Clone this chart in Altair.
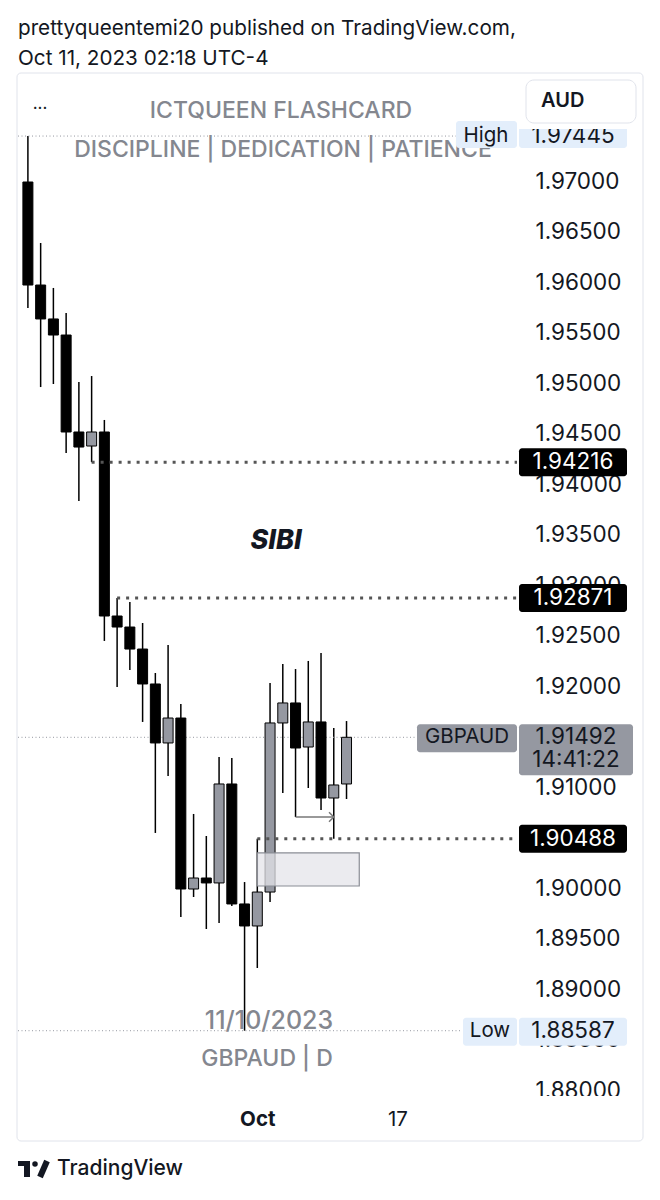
import altair as alt
import pandas as pd

# ---------------- data ----------------
dates = ["2023-09-06", "2023-09-07", "2023-09-08", "2023-09-11", "2023-09-12",
         "2023-09-13", "2023-09-14", "2023-09-15", "2023-09-18", "2023-09-19",
         "2023-09-20", "2023-09-21", "2023-09-22", "2023-09-25", "2023-09-26",
         "2023-09-27", "2023-09-28", "2023-09-29", "2023-10-02", "2023-10-03",
         "2023-10-04", "2023-10-05", "2023-10-06", "2023-10-09", "2023-10-10",
         "2023-10-11"]
opens = [1.96990, 1.95970, 1.95634, 1.95475, 1.94515, 1.94376, 1.94515, 1.92693,
         1.92584, 1.92366, 1.92020, 1.91436, 1.91683, 1.89990, 1.90099, 1.90050,
         1.91030, 1.89842, 1.89624, 1.89960, 1.91634, 1.91832, 1.91396, 1.91644,
         1.90891, 1.91030]
highs = [1.97445, 1.96386, 1.95941, 1.95693, 1.95010, 1.95069, 1.94634, 1.92871,
         1.92832, 1.92624, 1.92129, 1.92406, 1.91822, 1.90733, 1.90515, 1.91297,
         1.91287, 1.90059, 1.90488, 1.92030, 1.92218, 1.92168, 1.92248, 1.92327,
         1.91584, 1.91653]
lows = [1.95743, 1.94960, 1.94990, 1.94307, 1.93832, 1.94216, 1.92446, 1.91990,
        1.92158, 1.91644, 1.90545, 1.91109, 1.89713, 1.89911, 1.89594, 1.89653,
        1.89822, 1.88587, 1.89208, 1.89861, 1.90941, 1.90703, 1.90990, 1.90772,
        1.90488, 1.90881]
closes = [1.95970, 1.95634, 1.95475, 1.94515, 1.94366, 1.94515, 1.92693, 1.92584,
          1.92366, 1.92020, 1.91436, 1.91683, 1.89990, 1.90099, 1.90050, 1.91030,
          1.89842, 1.89624, 1.89960, 1.91634, 1.91832, 1.91386, 1.91644, 1.90891,
          1.91020, 1.91492]

level_prices = [1.94216, 1.92871, 1.90488]
level_labels = ["1.94216", "1.92871", "1.90488"]
level_start = [5, 7, 18]          # bar index where each dotted level starts

high_price, high_label = 1.97445, "1.97445"
low_price, low_label = 1.88587, "1.88587"
last_price, last_label = 1.91492, "1.91492"
countdown = "14:41:22"
symbol = "GBPAUD"

# price-scale ticks that are visible (1.905 / 1.915 sit fully behind labels)
y_ticks = [1.880, 1.885, 1.890, 1.895, 1.900, 1.910, 1.920, 1.925,
           1.930, 1.935, 1.940, 1.945, 1.950, 1.955, 1.960, 1.965, 1.970]
x_tick_idx = [18, 29]
x_tick_labels = ["Oct", "17"]

fvg_x = [18, 26]
fvg_y = [1.90347, 1.90020]
arrow_x = [21, 24]
arrow_y = 1.90703

header1 = "prettyqueentemi20 published on TradingView.com,"
header2 = "Oct 11, 2023 02:18 UTC-4"

# ---------------- layout helpers ----------------
X0, Y0 = 18, 72          # page pixel of the plot origin
W, H = 509, 1026
PXPU = 10100.0           # pixels per price unit
px = lambda v: v - X0
py = lambda v: v - Y0

xs = alt.Scale(domain=[-5 / 13, (W - 5) / 13], nice=False, zero=False)
ys = alt.Scale(domain=[1.97 - (Y0 + H - 181) / PXPU, 1.97 + (181 - Y0) / PXPU],
               nice=False, zero=False)

FONT = "Inter"
INK = "#131722"
WM = "#84878f"

df = pd.DataFrame({"date": dates, "open": opens, "high": highs, "low": lows, "close": closes})
df["i"] = range(len(df))
df["bull"] = df["close"] > df["open"]


def one(**kw):
    d = {"t": ""}
    d.update(kw)
    return alt.Chart(pd.DataFrame([d]))


def vtext(t, x, y, size, color=INK, align="center", weight="normal", style="normal", font=FONT):
    return one(t=t).mark_text(align=align, baseline="middle", fontSize=size, color=color,
                              fontWeight=weight, fontStyle=style, font=font).encode(
        x=alt.value(px(x)), y=alt.value(py(y)), text="t:N")


def vrect(x0, x1, y0, y1, fill, stroke=None, radius=0, sw=1, fill_opacity=1):
    kw = dict(fill=fill, cornerRadius=radius, fillOpacity=fill_opacity)
    if stroke:
        kw.update(stroke=stroke, strokeWidth=sw)
    return one().mark_rect(**kw).encode(x=alt.value(px(x0)), x2=alt.value(px(x1)),
                                        y=alt.value(py(y0)), y2=alt.value(py(y1)))


def price_box(price, x0, x1, up_px, down_px, fill, radius=3):
    return one(p=price).transform_calculate(
        top=f"datum.p + {up_px / PXPU}", bot=f"datum.p - {down_px / PXPU}"
    ).mark_rect(fill=fill, cornerRadius=radius).encode(
        x=alt.value(px(x0)), x2=alt.value(px(x1)),
        y=alt.Y("top:Q", scale=ys, axis=None), y2="bot:Q")


def price_text(price, label, x, color, size=22.5, dy=0, align="center", weight="normal"):
    return one(p=price, t=label).mark_text(fontSize=size, font=FONT, color=color, align=align,
                                            baseline="middle", dy=dy, fontWeight=weight).encode(
        x=alt.value(px(x)), y=alt.Y("p:Q", scale=ys, axis=None), text="t:N")


layers = []

# frame (no fill so the axes behind marks stay visible)
layers.append(vrect(17, 643, 73, 1141, "white", stroke="#e0e3eb", radius=4, fill_opacity=0))

# axes carrier: candle wicks
wicks = alt.Chart(df).mark_rule(color="black", strokeWidth=1.5).encode(
    x=alt.X("i:Q", scale=xs, axis=alt.Axis(
        orient="bottom", values=x_tick_idx, title=None, grid=False, ticks=False, domain=False,
        labelExpr="datum.value == 18 ? 'Oct' : '17'", labelFontSize=20.5, labelFont=FONT,
        labelColor=INK, labelPadding=11, labelFlush=False,
        labelFontWeight={"condition": {"test": "datum.value == 18", "value": "bold"},
                         "value": "normal"})),
    y=alt.Y("low:Q", scale=ys, axis=alt.Axis(
        orient="right", values=y_ticks, format=".5f", title=None, grid=False, ticks=False,
        domain=False, labelFontSize=22.5, labelFont=FONT, labelColor=INK, labelAlign="left",
        labelPadding=8, labelBaseline="middle", labelOverlap=False)),
    y2="high:Q")

# watermark texts
layers.append(vtext("ICTQUEEN FLASHCARD", 281, 111, 23, color=WM, weight=500))
layers.append(vtext("DISCIPLINE | DEDICATION | PATIENCE", 283, 150, 23, color=WM, weight=500))
layers.append(vtext("11/10/2023", 269, 1021, 25, color=WM, weight=500))
layers.append(vtext("GBPAUD | D", 267, 1059, 23, color=WM, weight=500))
layers.append(vtext("SIBI", 276, 541, 27, weight=800, style="italic"))

layers.append(wicks)

# thin dotted lines (high / low / last)
def thin_rule(price, x_end):
    return one(p=price).mark_rule(color="#9598a1", strokeDash=[1, 2.5], strokeWidth=1).encode(
        x=alt.value(0), x2=alt.value(px(x_end)), y=alt.Y("p:Q", scale=ys, axis=None))

layers.append(thin_rule(high_price, 456))
layers.append(thin_rule(last_price, 415))
layers.append(thin_rule(low_price, 462))

# candle bodies
bodies = alt.Chart(df).mark_bar(size=10, stroke="black", strokeWidth=1).encode(
    x=alt.X("i:Q", scale=xs, axis=None),
    y=alt.Y("open:Q", scale=ys, axis=None), y2="close:Q",
    fill=alt.condition("datum.bull", alt.value("#9598a1"), alt.value("black")))
layers.append(bodies)

# dotted level lines
lv = pd.DataFrame({"p": level_prices, "t": level_labels, "s": level_start})
layers.append(alt.Chart(lv).mark_rule(color="#555", strokeDash=[3, 6], strokeWidth=3).encode(
    x=alt.X("s:Q", scale=xs, axis=None), x2=alt.value(px(517)),
    y=alt.Y("p:Q", scale=ys, axis=None)))

# FVG rectangle
fvg = pd.DataFrame({"x0": [fvg_x[0]], "x1": [fvg_x[1]], "y0": [fvg_y[0]], "y1": [fvg_y[1]]})
layers.append(alt.Chart(fvg).mark_rect(fill="#e4e4ea", fillOpacity=0.75, stroke="#8a8d95",
                                       strokeWidth=1.2).encode(
    x=alt.X("x0:Q", scale=xs, axis=None), x2="x1:Q",
    y=alt.Y("y0:Q", scale=ys, axis=None), y2="y1:Q"))

# arrow drawing
arr = pd.DataFrame({"x0": [arrow_x[0]], "x1": [arrow_x[1]], "p": [arrow_y]})
layers.append(alt.Chart(arr).mark_rule(color="#777", strokeWidth=1.5).encode(
    x=alt.X("x0:Q", scale=xs, axis=None), x2="x1:Q", y=alt.Y("p:Q", scale=ys, axis=None)))
layers.append(alt.Chart(arr).mark_point(shape="M-1,-1L0,0L-1,1", size=90, color="#777",
                                        strokeWidth=1.5, filled=False, opacity=1).encode(
    x=alt.X("x1:Q", scale=xs, axis=None), y=alt.Y("p:Q", scale=ys, axis=None)))

# price-scale labels: levels
for p, t in zip(level_prices, level_labels):
    layers.append(price_box(p, 519, 627, 14, 14, "black"))
    layers.append(price_text(p, t, 573, "white"))

# last price
layers.append(price_box(last_price, 417, 517, 13, 15, "#9598a1"))
layers.append(price_text(last_price, symbol, 467, INK, size=20.5))
layers.append(price_box(last_price, 519, 633, 13, 38, "#9598a1"))
layers.append(price_text(last_price, last_label, 576, INK))
layers.append(price_text(last_price, countdown, 576, INK, dy=23))

# low
layers.append(price_box(low_price, 463, 517, 13, 15, "#e3eefb"))
layers.append(price_text(low_price, "Low", 490, INK, size=20.5))
layers.append(price_box(low_price, 519, 627, 13, 15, "#e3eefb"))
layers.append(price_text(low_price, low_label, 573, INK))

# high
layers.append(price_box(high_price, 456, 517, 15, 12, "#e3eefb"))
layers.append(price_text(high_price, "High", 486, INK, size=20.5))
layers.append(price_box(high_price, 519, 627, 15, 12, "#e3eefb"))
layers.append(price_text(high_price, high_label, 573, INK))

# currency button on top
layers.append(vrect(519, 641, 74, 129, "white"))
layers.append(vrect(526, 636, 80, 123, "white", stroke="#e0e3eb", radius=8))
layers.append(vtext("AUD", 541, 101, 20, align="left", weight=600))
layers.append(vtext("...", 40, 104, 17))

# clip bottom of price scale
layers.append(vrect(520, 642, 1096, 1106, "white"))

# header
layers.append(vtext(header1, 18, 29, 20.7, align="left"))
layers.append(vtext(header2, 18, 59, 20.7, align="left"))

# TradingView logo
layers.append(vrect(18, 30, 1161, 1166, INK))
layers.append(vrect(24, 30, 1161, 1177, INK))
layers.append(one().mark_circle(color=INK, size=30, opacity=1).encode(
    x=alt.value(px(35)), y=alt.value(py(1164))))
layers.append(one().mark_rule(color=INK, strokeWidth=6).encode(
    x=alt.value(px(47)), x2=alt.value(px(40)), y=alt.value(py(1161)), y2=alt.value(py(1177))))
layers.append(vtext("TradingView", 57, 1169, 21, align="left", weight=500))

chart = alt.layer(*layers).resolve_axis(x="independent", y="independent").properties(
    width=W, height=H,
    autosize=alt.AutoSizeParams(type="none"),
    padding={"left": X0 - 8, "top": Y0 - 8, "right": 652 - X0 - W, "bottom": 1192 - Y0 - H},
    background="white",
).configure_view(strokeWidth=0)

chart.save("out.html", embed_options={"renderer": "svg", "actions": False})
